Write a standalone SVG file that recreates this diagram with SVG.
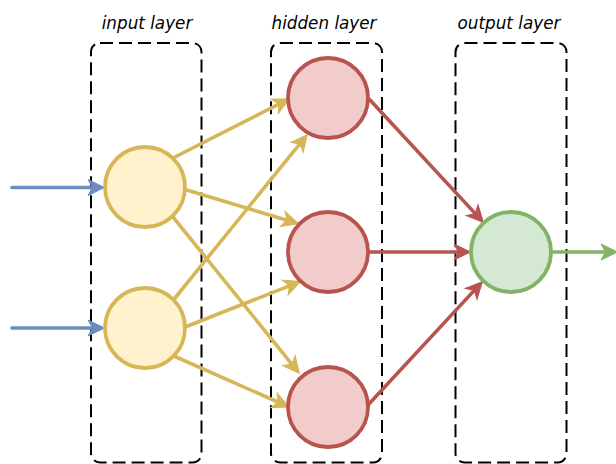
<svg xmlns="http://www.w3.org/2000/svg" width="616" height="464" viewBox="0 0 616 464">
<style>
.lbl{font-family:"DejaVu Sans","Liberation Sans",sans-serif;font-style:italic;font-size:16.8px;fill:#000;text-anchor:middle}
.box{fill:none;stroke:#000;stroke-width:2;stroke-dasharray:13 6}
.in{fill:#fff2cc;stroke:#d6b656;stroke-width:3.8}
.hid{fill:#f2cccb;stroke:#b85450;stroke-width:3.8}
.out{fill:#d5e8d4;stroke:#82b366;stroke-width:3.8}
.e{fill:none;stroke-width:3.6;stroke-linecap:round}
.eb{stroke:#6c8ebf;marker-end:url(#ab)}
.ey{stroke:#d6b656;marker-end:url(#ay)}
.er{stroke:#b85450;marker-end:url(#ar)}
.eg{stroke:#82b366;marker-end:url(#ag)}
</style>
<defs>
<marker id="ab" markerUnits="userSpaceOnUse" markerWidth="18" markerHeight="18" refX="8" refY="8" orient="auto" overflow="visible"><path d="M16.5,8 L0,0 L4.5,8 L0,16 Z" fill="#6c8ebf" stroke="#6c8ebf" stroke-width="1"/></marker>
<marker id="ay" markerUnits="userSpaceOnUse" markerWidth="18" markerHeight="18" refX="8" refY="8" orient="auto" overflow="visible"><path d="M16.5,8 L0,0 L4.5,8 L0,16 Z" fill="#d6b656" stroke="#d6b656" stroke-width="1"/></marker>
<marker id="ar" markerUnits="userSpaceOnUse" markerWidth="18" markerHeight="18" refX="8" refY="8" orient="auto" overflow="visible"><path d="M16.5,8 L0,0 L4.5,8 L0,16 Z" fill="#b85450" stroke="#b85450" stroke-width="1"/></marker>
<marker id="ag" markerUnits="userSpaceOnUse" markerWidth="18" markerHeight="18" refX="8" refY="8" orient="auto" overflow="visible"><path d="M16.5,8 L0,0 L4.5,8 L0,16 Z" fill="#82b366" stroke="#82b366" stroke-width="1"/></marker>
</defs>
<g id="layer-input">
<rect class="box" x="91" y="43" width="110.5" height="419.5" rx="9"/>
<text class="lbl" x="147" y="29">input layer</text>
</g>
<g id="layer-hidden">
<rect class="box" x="271" y="43" width="111" height="419.5" rx="9"/>
<text class="lbl" x="324" y="29">hidden layer</text>
</g>
<g id="layer-output">
<rect class="box" x="455.5" y="43" width="111" height="419.5" rx="9"/>
<text class="lbl" x="509" y="29">output layer</text>
</g>
<g id="connectors">
<line class="e eb" x1="12" y1="187.5" x2="96" y2="187.5"/>
<line class="e eb" x1="12" y1="328" x2="96" y2="328"/>
<line class="e ey" x1="173" y1="158" x2="281.9" y2="102.6"/>
<line class="e ey" x1="185" y1="189.5" x2="290.3" y2="221.2"/>
<line class="e ey" x1="173" y1="217" x2="294" y2="366.8"/>
<line class="e ey" x1="175" y1="298" x2="302" y2="141.2"/>
<line class="e ey" x1="186.5" y1="326.5" x2="292.6" y2="284.6"/>
<line class="e ey" x1="175" y1="356.5" x2="281.2" y2="403.5"/>
<line class="e er" x1="370" y1="100" x2="477.6" y2="216.1"/>
<line class="e er" x1="369" y1="252" x2="462" y2="252"/>
<line class="e er" x1="368" y1="405" x2="476.6" y2="287.9"/>
<line class="e eg" x1="552" y1="252" x2="609" y2="252"/>
</g>
<g id="input1"><circle class="in" cx="145" cy="187" r="40"/></g>
<g id="input2"><circle class="in" cx="145" cy="328" r="40"/></g>
<g id="hidden1"><circle class="hid" cx="328" cy="98" r="40"/></g>
<g id="hidden2"><circle class="hid" cx="328" cy="252" r="40"/></g>
<g id="hidden3"><circle class="hid" cx="328" cy="407" r="40"/></g>
<g id="output1"><circle class="out" cx="511" cy="252" r="40"/></g>
</svg>
